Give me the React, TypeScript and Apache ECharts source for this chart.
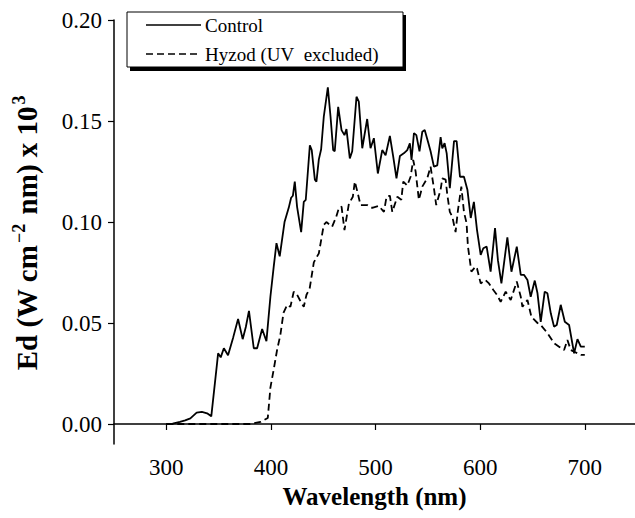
import React, { useEffect, useRef } from "react";
import * as echarts from "echarts";

const xTicks = [300, 400, 500, 600, 700];
const yTicks = [0, 0.05, 0.1, 0.15, 0.2];

const controlWl = [
  300, 306, 313, 318, 323, 329, 334, 339, 343, 348.5, 349.5, 352, 355, 359, 364, 368.6, 373, 376, 379,
  383.6, 386.8, 391.6, 395.7, 399.5, 402.7, 405.3, 408.4, 413, 417, 419.3, 421, 422.8, 425, 428.9, 431.4,
  433.3, 437.2, 439, 442, 443.5, 445.8, 448, 450.5, 454.4, 457, 459.5, 461, 464.3, 467.5, 470.3, 472.2,
  475.4, 477.7, 481.8, 484, 487.3, 492, 495.2, 498.4, 502.2, 506.4, 509.6, 513.7, 517, 520, 523.3, 527,
  530.3, 532.8, 534.4, 536.7, 539, 542, 544.7, 547, 550, 552.6, 555.8, 559, 562.2, 563.8, 566, 568, 571,
  575, 577.5, 580.7, 584.5, 587.8, 591, 594, 597, 600.5, 603, 606.2, 610, 614.2, 617, 620.3, 626, 629.9,
  635, 638.8, 642, 645.2, 648.3, 652.2, 654.8, 657.9, 661.7, 664.3, 667.5, 670.6, 673.2, 677, 680.9, 685,
  689.8, 693, 696.2, 700,
];
const controlEd = [
  0.0, 0.0002, 0.001, 0.0018, 0.0028, 0.0056, 0.006, 0.0053, 0.0038, 0.03, 0.035, 0.033, 0.0375, 0.034,
  0.043, 0.052, 0.042, 0.048, 0.056, 0.0375, 0.0375, 0.047, 0.041, 0.063, 0.078, 0.0895, 0.083, 0.1, 0.107,
  0.112, 0.113, 0.12, 0.1075, 0.095, 0.11, 0.111, 0.138, 0.1356, 0.121, 0.12, 0.131, 0.136, 0.152, 0.1667,
  0.152, 0.1356, 0.135, 0.157, 0.1455, 0.143, 0.146, 0.1315, 0.135, 0.162, 0.1596, 0.1365, 0.151, 0.1365,
  0.1415, 0.124, 0.1356, 0.133, 0.1426, 0.132, 0.1216, 0.1327, 0.134, 0.1356, 0.139, 0.1307, 0.144, 0.143,
  0.135, 0.1447, 0.1455, 0.14, 0.135, 0.1274, 0.128, 0.142, 0.1365, 0.139, 0.134, 0.1167, 0.14, 0.14,
  0.1224, 0.1224, 0.116, 0.102, 0.11, 0.096, 0.0837, 0.087, 0.0878, 0.0754, 0.097, 0.081, 0.0696, 0.0924,
  0.0754, 0.0878, 0.0738, 0.0738, 0.0713, 0.063, 0.071, 0.0647, 0.0506, 0.0655, 0.0647, 0.0548, 0.0482,
  0.049, 0.059, 0.0506, 0.049, 0.035, 0.042, 0.0383, 0.0383,
];

const hyzodWl = [
  300, 320, 340, 360, 380, 390, 397, 399.5, 403, 406, 409, 412, 415.5, 418.6, 421.8, 425, 428, 431.4, 434,
  437, 441, 445.8, 450.5, 453, 458.5, 462.4, 465, 467.5, 470.3, 474.5, 478.3, 480.2, 483.4, 485.6, 492,
  496.8, 503, 508, 510.5, 513.7, 516, 520.8, 524.6, 526.5, 530.3, 533.5, 536, 538.3, 541.4, 544.7, 549.4,
  552.6, 555.8, 558, 562.2, 563.8, 567, 568.6, 571, 573.4, 576.5, 578.8, 582, 584.5, 587, 588.3, 591.6,
  595.7, 597, 600.5, 605, 608.4, 612.6, 616, 619.6, 624.4, 629.2, 635, 638.8, 640.4, 645.2, 649, 654.8,
  657.9, 664.3, 670.6, 675.4, 680.2, 683.4, 686.6, 689.8, 696.2, 700,
];
const hyzodEd = [
  0, 0, 0, 0, 0, 0.001, 0.003, 0.018, 0.028, 0.037, 0.044, 0.055, 0.059, 0.058, 0.0655, 0.064, 0.061,
  0.058, 0.064, 0.067, 0.08, 0.0845, 0.0985, 0.1, 0.0977, 0.1026, 0.107, 0.1076, 0.096, 0.109, 0.1125,
  0.12, 0.1134, 0.1084, 0.1084, 0.107, 0.108, 0.105, 0.1125, 0.113, 0.105, 0.1125, 0.111, 0.12, 0.118,
  0.1224, 0.1307, 0.125, 0.111, 0.1175, 0.1216, 0.1274, 0.1167, 0.1084, 0.116, 0.1216, 0.121, 0.1134,
  0.105, 0.1026, 0.095, 0.106, 0.1175, 0.105, 0.0994, 0.088, 0.0754, 0.078, 0.077, 0.0696, 0.0713, 0.0696,
  0.0663, 0.064, 0.0605, 0.0655, 0.0614, 0.0705, 0.063, 0.058, 0.0614, 0.053, 0.05, 0.049, 0.045, 0.04,
  0.0383, 0.0366, 0.0416, 0.0366, 0.0358, 0.0342, 0.0342,
];

const legendLabels = ["Control", "Hyzod (UV\u00a0 excluded)"];

const FONT = "Liberation Serif";

export default function App() {
  const ref = useRef<HTMLDivElement>(null);
  useEffect(() => {
    if (!ref.current) return;
    const chart = echarts.init(ref.current, null, { renderer: "svg" });
    const pairs = (xs: number[], ys: number[]) => xs.map((x, i) => [x, ys[i]]);
    chart.setOption({
      animation: false,
      backgroundColor: "#ffffff",
      textStyle: { fontFamily: FONT },
      grid: { left: 114, right: 0, top: 20, bottom: 74, containLabel: false },
      xAxis: {
        type: "value",
        min: 250,
        max: 748,
        name: "Wavelength (nm)",
        nameLocation: "middle",
        nameGap: 40,
        nameTextStyle: { fontFamily: FONT, fontWeight: "bold", fontSize: 25, color: "#000" },
        axisLine: { show: true, lineStyle: { color: "#000", width: 1.5 } },
        axisTick: { show: true, customValues: xTicks, length: 6, lineStyle: { color: "#000", width: 1.2 } },
        axisLabel: {
          customValues: xTicks,
          fontFamily: FONT,
          fontSize: 23,
          color: "#000",
          margin: 12,
        },
        splitLine: { show: false },
      },
      yAxis: {
        type: "value",
        min: -0.0099,
        max: 0.2,
        name: "Ed (W cm{sup|−2} nm) x 10{sup|3}",
        nameLocation: "middle",
        nameRotate: 90,
        nameGap: 71,
        nameTextStyle: {
          fontFamily: FONT,
          fontWeight: "bold",
          fontSize: 29,
          color: "#000",
          rich: {
            sup: {
              fontFamily: FONT,
              fontWeight: "bold",
              fontSize: 18,
              color: "#000",
              verticalAlign: "top",
              padding: [0, 2, 15, 2],
            },
          },
        },
        axisLine: { show: true, lineStyle: { color: "#000", width: 1.5 } },
        axisTick: { show: true, customValues: yTicks, length: 6, lineStyle: { color: "#000", width: 1.2 } },
        axisLabel: {
          customValues: yTicks,
          formatter: (v: number) => v.toFixed(2),
          fontFamily: FONT,
          fontSize: 23,
          color: "#000",
          margin: 12,
        },
        splitLine: { show: false },
      },
      series: [
        {
          name: legendLabels[0],
          type: "line",
          data: pairs(controlWl, controlEd),
          showSymbol: false,
          lineStyle: { color: "#000", width: 1.8, type: "solid" },
        },
        {
          name: legendLabels[1],
          type: "line",
          data: pairs(hyzodWl, hyzodEd),
          showSymbol: false,
          lineStyle: { color: "#000", width: 1.8, type: [7, 4] },
        },
      ],
      graphic: [
        { type: "rect", shape: { x: 130, y: 15, width: 276, height: 56 }, style: { fill: "#000" }, z: 10 },
        {
          type: "rect",
          shape: { x: 127, y: 12, width: 276, height: 55 },
          style: { fill: "#fff", stroke: "#000", lineWidth: 1 },
          z: 11,
        },
        { type: "line", shape: { x1: 146, y1: 25, x2: 201, y2: 25 }, style: { stroke: "#000", lineWidth: 1.6 }, z: 12 },
        {
          type: "line",
          shape: { x1: 146, y1: 54, x2: 201, y2: 54 },
          style: { stroke: "#000", lineWidth: 1.6, lineDash: [7, 4] },
          z: 12,
        },
        {
          type: "text",
          x: 205,
          y: 25,
          style: { text: legendLabels[0], fontFamily: FONT, fontSize: 19, fill: "#000", verticalAlign: "middle" },
          z: 12,
        },
        {
          type: "text",
          x: 205,
          y: 54,
          style: { text: legendLabels[1], fontFamily: FONT, fontSize: 19, fill: "#000", verticalAlign: "middle" },
          z: 12,
        },
      ],
    });
    return () => chart.dispose();
  }, []);
  return <div ref={ref} style={{ width: 635, height: 518, position: "absolute", left: 0, top: 0 }} />;
}
